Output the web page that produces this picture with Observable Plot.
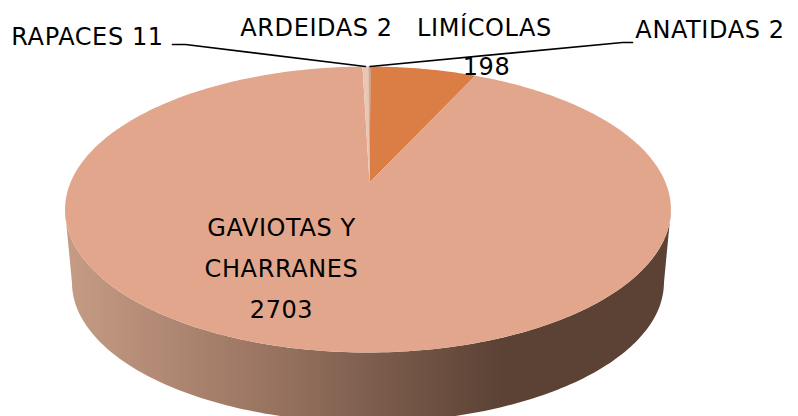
<!DOCTYPE html>
<html>
<head>
<meta charset="utf-8">
<style>html,body{margin:0;padding:0;background:#fff;overflow:hidden}</style>
<script src="https://cdn.jsdelivr.net/npm/d3@7"></script>
<script src="https://cdn.jsdelivr.net/npm/@observablehq/plot@0.6"></script>
</head>
<body>
<div id="chart"></div>
<script>
// Data
const categories = ["ANATIDAS", "LIMÍCOLAS", "GAVIOTAS Y CHARRANES", "RAPACES", "ARDEIDAS"];
const values = [2, 198, 2703, 11, 2];
const sliceColors = ["#a08070", "#db7e46", "#e2a68c", "#eac6b6", "#b89a8a"];

// Labels
const labelLines = ["RAPACES 11", "ARDEIDAS 2", "LIMÍCOLAS", "198", "ANATIDAS 2", "GAVIOTAS Y", "CHARRANES", "2703"];
const labelX = [87, 316, 484, 486, 709.5, 281, 281, 281];
const labelY = [37, 28, 28, 67, 30, 228, 269, 310];

// Leaders: slice index and elbow/end of each
const leaderSlice = [3, 0];
const leaderElbow = [[185, 44], [622, 42]];
const leaderEnd = [[172, 44], [632, 42]];

// Projection of the tilted disc
const cx = 369, cy = 182, R = 297.5, H = 137.9, K = 0.1888, KX = 0.005;
const lowerScale = 0.977, lowerCx = 368, lowerCy = 209, lowerDy = 73;
const project = (theta, r = 1) => {
  const u = r * Math.sin(theta), v = r * Math.cos(theta), s = 1 / (1 + K * v + KX * u);
  return {px: cx + R * u * s, py: cy - H * v * s};
};
const projectLower = theta => {
  const p = project(theta);
  return {px: lowerCx + (p.px - lowerCx) * lowerScale, py: lowerCy + (p.py - lowerCy) * lowerScale + lowerDy};
};

const arcs = d3.pie().sort(null).startAngle(0).endAngle(2 * Math.PI)(values);
const slicePoints = arcs.flatMap((a, i) => {
  const n = Math.max(2, Math.ceil((a.endAngle - a.startAngle) * 60));
  const pts = [{...project(0, 0), name: categories[i]}];
  for (let j = 0; j <= n; j++) {
    pts.push({...project(a.startAngle + (a.endAngle - a.startAngle) * j / n), name: categories[i]});
  }
  return pts;
});

// Side wall: front half of the rim and the same rim, smaller and lower
const rim = d3.range(0, 361).map(d => project(d * Math.PI / 180));
const iR = d3.greatest(rim.map((p, i) => [p.px, i]), a => a[0])[1];
const iL = d3.least(rim.map((p, i) => [p.px, i]), a => a[0])[1];
const front = d3.range(iR, iL + 1).map(i => i * Math.PI / 180);
const wallPoints = [
  ...front.map(t => project(t)),
  ...front.slice().reverse().map(projectLower)
];

const leaders = leaderSlice.flatMap((s, i) => {
  const a = arcs[s], p = project((a.startAngle + a.endAngle) / 2);
  return [
    {px: p.px, py: p.py, k: i},
    {px: leaderElbow[i][0], py: leaderElbow[i][1], k: i},
    {px: leaderEnd[i][0], py: leaderEnd[i][1], k: i}
  ];
});

const gradient = () => {
  const defs = d3.create("svg:defs");
  const g = defs.append("linearGradient").attr("id", "wall");
  [[0, "#c69c85"], [0.31, "#9d7764"], [0.72, "#5b4235"], [1, "#5b4235"]].forEach(([o, c]) =>
    g.append("stop").attr("offset", o).attr("stop-color", c));
  return defs.node();
};

const chart = Plot.plot({
  width: 798, height: 416,
  margin: 0,
  style: {background: "#fff", fontFamily: "'DejaVu Sans', sans-serif", letterSpacing: "0.6px"},
  x: {axis: null, domain: [0, 798], range: [0, 798]},
  y: {axis: null, domain: [0, 416], range: [0, 416]},
  color: {domain: categories, range: sliceColors},
  marks: [
    gradient,
    Plot.line(wallPoints, {x: "px", y: "py", curve: "linear-closed", fill: "url(#wall)", stroke: "none"}),
    Plot.line(slicePoints, {x: "px", y: "py", z: "name", curve: "linear-closed", fill: "name", stroke: "none"}),
    Plot.line(leaders, {x: "px", y: "py", z: "k", stroke: "#000", strokeWidth: 1.7, curve: "linear"}),
    Plot.text(labelLines, {x: (d, i) => labelX[i], y: (d, i) => labelY[i], text: d => d, fontSize: 24, fill: "#000"})
  ]
});
document.getElementById("chart").append(chart);
</script>
</body>
</html>
